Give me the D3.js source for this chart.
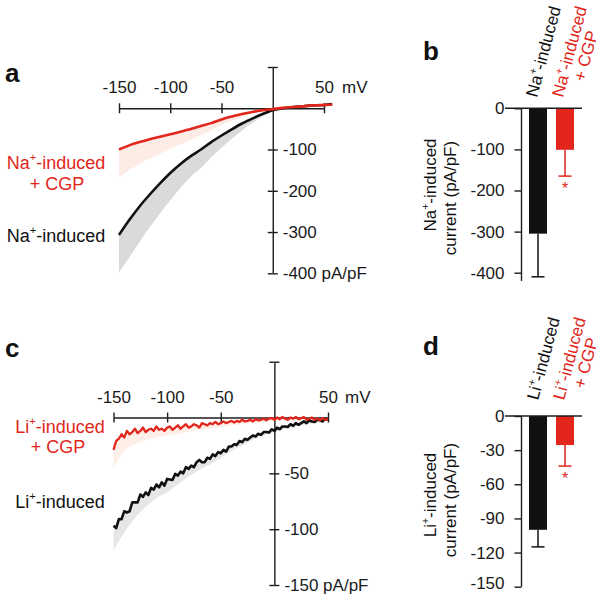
<!DOCTYPE html>
<html><head><meta charset="utf-8">
<script src="https://cdn.jsdelivr.net/npm/d3@7"></script>
<style>
body{margin:0;background:#fff}
svg text{font-family:"Liberation Sans",Arial,Helvetica,sans-serif}
</style></head><body>
<svg id="chart" width="604" height="595"></svg>
<script>
// ---------- DATA ----------
// Panel a: Na+-induced I-V (mV vs pA/pF)
const naV       = [-150,-140,-130,-120,-110,-100,-90,-80,-70,-60,-50,-40,-30,-20,-10,0,10,20,30,40,50,58];
const naMean    = [-307,-271,-238,-209,-182,-157,-135,-116,-100,-82,-66,-51,-37,-25,-14,-5,0,3,5,7,8,10];
const naLow     = [-398,-362,-324,-288,-255,-223,-193,-166,-145,-119,-96,-74,-54,-36,-20,-8,-2,1,3,5,6,8];
const naCgpMean = [-100,-90,-82,-75,-69,-63,-57,-50,-43,-36,-27,-20,-14,-9,-5,-2,1,3,5,7,8,9];
const naCgpLow  = [-168,-150,-135,-122,-110,-99,-88,-77,-65,-53,-40,-30,-21,-13,-7,-3,0,2,4,6,7,8];
const aXTicks = [-150,-100,-50,50];
const aYTicks = [100,-100,-200,-300,-400];

// Panel c: Li+-induced I-V traces (2.5 mV steps)
const liV = d3.range(0,81).map(i => -150 + i*2.5);
const liTrace = [-97,-99,-91,-91,-84,-85,-84,-76,-76,-76,-69,-71,-67,-69.5,-63,-64.5,-60,-62.5,-58,-61,
  -55,-55.5,-56,-50.5,-52,-48.5,-50,-44.5,-46,-43,-44.5,-40,-38,-40,-40,-36,-37,-33,-34.5,-31,
  -32,-29,-30.5,-26,-26,-24,-24.5,-21,-22,-19,-20,-18,-16,-17,-14.5,-15.5,-13,-13,-13.5,-10.5,
  -12,-9,-10.5,-8,-8,-8.5,-6,-7.5,-5,-6.5,-5,-3.5,-5,-2.5,-3.5,-4,-2,-2.5,-3.5,-1,-2];
const liCgpTrace = [-29,-21,-19,-15,-18,-12,-15,-13,-10,-14,-12,-9,-13,-11,-10,-12,-8,-11,-10,-12,
  -9,-8,-11,-9,-7,-10,-8,-6,-9,-8,-6,-7,-9,-5,-6,-7,-5,-6,-4,-6,
  -5,-3.5,-5,-4,-3,-4.5,-3,-4,-2,-3.5,-3,-2,-3.5,-1.5,-2.5,-2,-1,-2.5,-1,-0.5,
  -2,0,-1.5,0.5,-1,-2,0,-1,0.5,-1.5,-0.5,0.5,-2,-1,0,-2,-1,-2.5,-0.5,-2,-1.5];
const liBandV      = [-150,-140,-130,-120,-110,-100,-90,-80,-70,-60,-50,-40,-30,-20,-10,0,10,20,30,40,50];
const liBandTop    = [-99,-87,-76,-68,-62,-57,-51,-45,-40,-36,-31,-26,-21,-17,-14,-11,-8,-6,-4,-3,-2];
const liBandLow    = [-119,-103,-90,-80,-72,-67,-60,-53,-47,-42,-36,-30,-25,-20,-16,-13,-10,-8,-6,-5,-4];
const liCgpBandTop = [-25,-15,-12.5,-11,-10.5,-10,-9,-8,-7,-6,-5,-4,-3.5,-3,-2,-1,-1,-1,-1.5,-2,-2];
const liCgpBandLow = [-45,-30,-24,-20,-18,-16,-14.5,-13,-11.5,-10,-8.5,-7,-6,-5,-4,-3,-3,-3,-3.5,-4,-4];
const cXTicks = [-150,-100,-50,50];
const cYTicks = [50,-50,-100,-150];

// Panels b, d: bar charts
const barGroups = ["ctrl","cgp"];
const naBarMean = [-305,-101];
const naBarSem  = [105,64];
const bYTicks = [0,-100,-200,-300,-400];
const liBarMean = [-100,-25.5];
const liBarSem  = [15,18.5];
const dYTicks = [0,-30,-60,-90,-120,-150];

// ---------- STYLE ----------
const RED = "#e2261c", BLK = "#111111", AX = "#1c1c1c", FS = 17, LFS = 18;
const svg = d3.select("#chart");

function ionText(sel, ion, rest, fs){
  fs = fs || FS;
  sel.append("tspan").text(ion);
  sel.append("tspan").text("+").attr("font-size", fs*0.62).attr("dy", -fs*0.42);
  sel.append("tspan").text(rest).attr("dy", fs*0.42);
  return sel;
}
function styleAxis(g){
  g.selectAll("path,line").attr("stroke", AX).attr("stroke-width", 1.4);
  g.selectAll("text").attr("font-size", FS).attr("fill", "#1a1a1a")
    .attr("font-family", '"Liberation Sans",Arial,sans-serif');
  g.attr("font-family", null);
}
function panelLetter(t, x, y){
  svg.append("text").attr("x", x).attr("y", y).text(t)
    .attr("font-size", 26).attr("font-weight", "bold").attr("fill", "#111");
}
const fmt = d => String(d);

// ---------- PANEL A ----------
const xA = d3.scaleLinear().domain([-150,50]).range([119,324]);
const yA = d3.scaleLinear().domain([100,-400]).range([67,273.3]);
{
  const g = svg.append("g");
  const aArea = (m, l) => d3.area().x((d,i)=>xA(naV[i])).y0((d,i)=>yA(l[i])).y1((d,i)=>yA(m[i])).curve(d3.curveMonotoneX);
  const aLine = (m) => d3.line().x((d,i)=>xA(naV[i])).y((d,i)=>yA(m[i])).curve(d3.curveMonotoneX);
  g.append("path").attr("d", aArea(naMean, naLow)(naV)).attr("fill", "#dadada");
  g.append("path").attr("d", aArea(naCgpMean, naCgpLow)(naV)).attr("fill", "#fdece5");
  const gx = g.append("g").attr("transform", `translate(0,${yA(0)})`);
  gx.append("g").call(d3.axisTop(xA).tickValues(aXTicks).tickSize(5).tickSizeOuter(0).tickPadding(10).tickFormat(fmt)).call(styleAxis);
  gx.append("g").call(d3.axisBottom(xA).tickValues(aXTicks).tickSize(5).tickFormat("")).call(s=>s.select(".domain").remove()).call(styleAxis);
  const gy = g.append("g").attr("transform", `translate(${xA(0)},0)`);
  gy.append("g").call(d3.axisRight(yA).tickValues(aYTicks).tickSize(5).tickSizeOuter(0).tickPadding(5)
      .tickFormat(d => d===100 ? "" : (d===-400 ? "-400 pA/pF" : fmt(d)))).call(styleAxis);
  gy.append("g").call(d3.axisLeft(yA).tickValues(aYTicks).tickSize(5).tickFormat("")).call(s=>s.select(".domain").remove()).call(styleAxis);
  g.append("text").attr("x", xA(50)+18).attr("y", yA(0)-15).text("mV").attr("font-size", FS).attr("fill","#1a1a1a");
  g.append("path").attr("d", aLine(naMean)(naV)).attr("fill","none").attr("stroke", BLK).attr("stroke-width", 2.6);
  g.append("path").attr("d", aLine(naCgpMean)(naV)).attr("fill","none").attr("stroke", RED).attr("stroke-width", 2.6);
  const t1 = g.append("text").attr("x", 56).attr("y", 169).attr("text-anchor","middle").attr("font-size",LFS).attr("fill",RED);
  ionText(t1, "Na", "-induced", LFS);
  g.append("text").attr("x", 57).attr("y", 190).attr("text-anchor","middle").attr("font-size",LFS).attr("fill",RED).text("+ CGP");
  const t2 = g.append("text").attr("x", 56).attr("y", 241.5).attr("text-anchor","middle").attr("font-size",LFS).attr("fill","#111");
  ionText(t2, "Na", "-induced", LFS);
  panelLetter("a", 5, 82);
}

// ---------- PANEL C ----------
const xC = d3.scaleLinear().domain([-150,50]).range([113.5,328]);
const yC = d3.scaleLinear().domain([50,-150]).range([361.7,585]);
{
  const g = svg.append("g");
  const cArea = (t, l) => d3.area().x((d,i)=>xC(liBandV[i])).y0((d,i)=>yC(l[i])).y1((d,i)=>yC(t[i])).curve(d3.curveMonotoneX);
  g.append("path").attr("d", cArea(liBandTop, liBandLow)(liBandV)).attr("fill", "#e0e0e0").attr("opacity",0.8);
  g.append("path").attr("d", cArea(liCgpBandTop, liCgpBandLow)(liBandV)).attr("fill", "#fdeee8");
  const gx = g.append("g").attr("transform", `translate(0,${yC(0)})`);
  gx.append("g").call(d3.axisTop(xC).tickValues(cXTicks).tickSize(5).tickSizeOuter(0).tickPadding(10).tickFormat(fmt)).call(styleAxis);
  gx.append("g").call(d3.axisBottom(xC).tickValues(cXTicks).tickSize(5).tickFormat("")).call(s=>s.select(".domain").remove()).call(styleAxis);
  const gy = g.append("g").attr("transform", `translate(${xC(0)},0)`);
  gy.append("g").call(d3.axisRight(yC).tickValues(cYTicks).tickSize(5).tickSizeOuter(0).tickPadding(5)
      .tickFormat(d => d===50 ? "" : (d===-150 ? "-150 pA/pF" : fmt(d)))).call(styleAxis);
  gy.append("g").call(d3.axisLeft(yC).tickValues(cYTicks).tickSize(5).tickFormat("")).call(s=>s.select(".domain").remove()).call(styleAxis);
  g.append("text").attr("x", xC(50)+17).attr("y", yC(0)-15).text("mV").attr("font-size", FS).attr("fill","#1a1a1a");
  const cLine = (arr) => d3.line().x((d,i)=>xC(liV[i])).y((d,i)=>yC(arr[i]));
  g.append("path").attr("d", cLine(liTrace)(liV)).attr("fill","none").attr("stroke", BLK).attr("stroke-width", 2.6).attr("stroke-linejoin","round");
  g.append("path").attr("d", cLine(liCgpTrace)(liV)).attr("fill","none").attr("stroke", RED).attr("stroke-width", 2.3).attr("stroke-linejoin","round");
  const t1 = g.append("text").attr("x", 60).attr("y", 433).attr("text-anchor","middle").attr("font-size",LFS).attr("fill",RED);
  ionText(t1, "Li", "-induced", LFS);
  g.append("text").attr("x", 58).attr("y", 453).attr("text-anchor","middle").attr("font-size",LFS).attr("fill",RED).text("+ CGP");
  const t2 = g.append("text").attr("x", 60).attr("y", 508).attr("text-anchor","middle").attr("font-size",LFS).attr("fill","#111");
  ionText(t2, "Li", "-induced", LFS);
  panelLetter("c", 5, 357);
}

// ---------- BAR PANELS ----------
function barPanel(opts){
  const {y, ticks, means, sems, ion, axisBottomVal, letterY, label1Y, label2Y, catY} = opts;
  const g = svg.append("g");
  const axX = 521.5;
  const xB = d3.scaleBand().domain(barGroups).range([529,574]).paddingInner(1/3).paddingOuter(0);
  const ga = g.append("g").attr("transform", `translate(${axX},0)`)
    .call(d3.axisLeft(y).tickValues(ticks).tickSize(7).tickPadding(10).tickSizeOuter(0).tickFormat(fmt));
  ga.select(".domain").remove();
  styleAxis(ga);
  if (opts.lastTickShift) ga.selectAll(".tick text").filter(d => d===ticks[ticks.length-1]).attr("dy", "0.1em");
  g.append("line").attr("x1",axX).attr("x2",axX).attr("y1",y(0)).attr("y2",y(axisBottomVal)).attr("stroke",AX).attr("stroke-width",1.4);
  const cols = [BLK, RED];
  barGroups.forEach((k,i)=>{
    const cx = xB(k) + xB.bandwidth()/2;
    g.append("rect").attr("x", xB(k)).attr("width", xB.bandwidth())
      .attr("y", y(0)).attr("height", y(means[i]) - y(0)).attr("fill", cols[i]);
    const yl = y(means[i] - sems[i]);
    g.append("line").attr("x1",cx).attr("x2",cx).attr("y1",y(means[i])).attr("y2",yl).attr("stroke",cols[i]).attr("stroke-width",1.5);
    g.append("line").attr("x1",cx-6.5).attr("x2",cx+6.5).attr("y1",yl).attr("y2",yl).attr("stroke",cols[i]).attr("stroke-width",1.5);
    if(i===1){
      g.append("text").attr("x",cx).attr("y",yl+18).attr("text-anchor","middle").attr("font-size",16).attr("fill",RED).text("*");
    }
  });
  g.append("line").attr("x1",505).attr("x2",582).attr("y1",y(0)).attr("y2",y(0)).attr("stroke",AX).attr("stroke-width",1.4);
  const l1 = g.append("text").attr("transform", `translate(436,${label1Y}) rotate(-90)`).attr("text-anchor","middle").attr("font-size",FS).attr("fill","#111");
  ionText(l1, ion, "-induced");
  g.append("text").attr("transform", `translate(456,${label2Y}) rotate(-90)`).attr("text-anchor","middle").attr("font-size",FS).attr("fill","#111").text("current (pA/pF)");
  const c1 = g.append("g").attr("transform", `translate(${xB("ctrl")+xB.bandwidth()/2+11},${catY}) rotate(-75)`);
  ionText(c1.append("text").attr("text-anchor","middle").attr("font-size",FS).attr("fill","#111"), ion, "-induced");
  const c2 = g.append("g").attr("transform", `translate(${xB("cgp")+xB.bandwidth()/2+10},${catY}) rotate(-75)`);
  ionText(c2.append("text").attr("text-anchor","middle").attr("font-size",FS).attr("fill",RED), ion, "-induced");
  c2.append("text").attr("y",17).attr("text-anchor","middle").attr("font-size",FS).attr("fill",RED).text("+ CGP");
  panelLetter(opts.letter, 423, letterY);
}
const yB = d3.scaleLinear().domain([0,-400]).range([108.3,272.7]);
barPanel({y:yB, ticks:bYTicks, means:naBarMean, sems:naBarSem, ion:"Na", axisBottomVal:-420, letter:"b", letterY:60, label1Y:185, label2Y:198, catY:53});
const yD = d3.scaleLinear().domain([0,-150]).range([416,586.7]);
barPanel({y:yD, ticks:dYTicks, means:liBarMean, sems:liBarSem, ion:"Li", axisBottomVal:-150, letter:"d", letterY:355, label1Y:495, label2Y:500, catY:360, lastTickShift:true});
</script>
</body></html>
